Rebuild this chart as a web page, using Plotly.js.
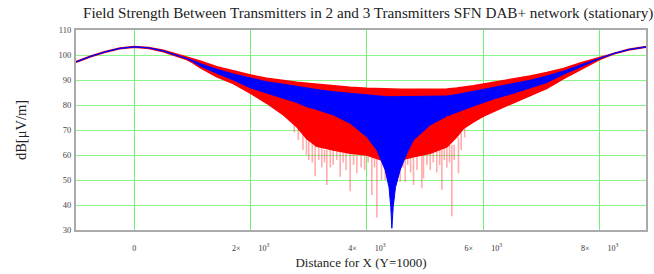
<!DOCTYPE html>
<html>
<head>
<meta charset="utf-8">
<script src="https://cdn.plot.ly/plotly-3.0.1.min.js"></script>
<style>html,body{margin:0;padding:0;background:#fff;}#chart{width:654px;height:274px;}</style>
</head>
<body>
<div id="chart"></div>
<script>
// Distance along X (m)
var distX = [-1000,-750,-500,-250,0,250,500,750,900,1000,1130,1417,1703,2000,2277,2564,2793,2966,3138,3424,3711,3998,4170,4313,4380,4410,4428,4450,4490,4571,4686,4800,5088,5374,5546,5660,5832,6004,6233,6520,6807,7095,7381,7668,8000,8250,8500,8800];
// 3-transmitter SFN (red) envelope, dB[uV/m]
var redUpper = [97.4,99.6,101.4,102.8,103.4,103.0,101.9,100.2,99.1,98.4,97.6,95.3,93.6,92.0,90.7,89.7,89.1,88.7,88.3,87.6,87.1,86.7,86.5,86.4,86.3,86.3,86.3,86.3,86.3,86.3,86.3,86.3,86.3,86.4,86.8,87.1,87.7,88.4,89.3,90.3,91.6,93.0,94.6,96.8,99.0,100.8,102.3,103.4];
var redLower = [97.1,99.3,101.1,102.5,103.1,102.6,101.3,99.5,98.2,97.0,95.0,91.3,88.6,84.7,80.7,76.0,71.3,66.5,63.5,62.0,60.7,60.0,58.5,57.5,57.5,57.5,57.5,57.5,57.5,58.0,58.8,59.3,60.7,63.3,67.3,70.7,73.3,75.6,78.0,81.0,84.0,86.7,90.6,94.1,98.2,100.5,102.0,103.1];
// 2-transmitter SFN (blue) envelope, dB[uV/m]
var blueUpper = [97.3,99.5,101.3,102.7,103.3,102.9,101.7,99.9,98.8,97.9,96.6,94.3,92.4,90.7,89.3,88.3,87.4,86.7,86.2,85.3,84.6,84.0,83.7,83.4,83.3,83.3,83.3,83.3,83.3,83.3,83.3,83.3,83.4,83.6,84.2,84.7,85.5,86.3,87.3,88.4,89.9,91.6,93.6,96.0,98.8,100.7,102.2,103.3];
var blueLower = [97.2,99.4,101.2,102.6,103.2,102.8,101.5,99.6,98.5,97.4,95.6,92.7,90.0,86.8,84.7,82.7,81.0,79.3,78.2,76.0,72.7,67.3,62.0,54.0,47.0,39.0,30.7,39.0,47.0,54.0,60.7,66.0,72.0,75.6,77.2,78.0,79.6,81.0,82.8,84.7,86.9,89.0,92.3,95.3,98.5,100.6,102.1,103.2];
// deep interference notches of the 3-transmitter field
var spikeX   = [2750,2820,2900,2960,3000,3060,3109,3170,3224,3270,3310,3370,3420,3480,3539,3590,3640,3711,3770,3826,3900,3960,4020,4084,4130,4170,4250,4313,4571,4620,4657,4700,4750,4800,4860,4944,4972,5030,5088,5140,5200,5250,5288,5330,5374,5420,5460,5500,5574,5620,5680];
var spikeLow = [69,66,62,60,58,57,51.5,58,55,57,48,55,56,58,51.3,57,54,45.5,56,52.7,55,54,57,44,55,35,50,50,49.3,55,49.3,56,53,48,54,46.7,50.7,56,54,57,53,56,46,58,55,57,35.5,58,52.7,62,67];
var spikeTop = [74,72,70,68,66,65,64,63,63,62,62,62,62,62,62,61,61,61,61,60,60,60,60,60,59,59,58,58,58,58,59,59,59,59,60,60,60,60,61,61,62,62,62,63,63,64,64,64,67,69,72];
// axis ticks
var nb = '\u00a0\u00a0\u00a0\u00a0\u00a0\u00a0\u00a0\u00a0\u00a0';
var xTickVals = [0,2000,4000,6000,8000];
var xTickText = ['0','2\u00d7'+nb+'10<sup>3</sup>','4\u00d7'+nb+'10<sup>3</sup>','6\u00d7'+nb+'10<sup>3</sup>','8\u00d7'+nb+'10<sup>3</sup>'];
var yTickVals = [30,40,50,60,70,80,90,100,110];

var sx = [], sy = [];
for (var i = 0; i < spikeX.length; i++) {
  sx.push(spikeX[i], spikeX[i], null);
  sy.push(spikeTop[i], spikeLow[i], null);
}

var traces = [
  {x: sx, y: sy, mode: 'lines', line: {color: 'rgba(255,70,70,0.45)', width: 1.6}, hoverinfo: 'skip', showlegend: false},
  {x: distX, y: redUpper, mode: 'lines', line: {color: '#ff0000', width: 1.5}, showlegend: false},
  {x: distX, y: redLower, mode: 'lines', line: {color: '#ff0000', width: 1.5}, fill: 'tonexty', fillcolor: '#ff0000', showlegend: false},
  {x: distX, y: blueUpper, mode: 'lines', line: {color: '#0000ff', width: 1}, showlegend: false},
  {x: distX, y: blueLower, mode: 'lines', line: {color: '#0000ff', width: 1}, fill: 'tonexty', fillcolor: '#0000ff', showlegend: false}
];

var serif = 'Liberation Serif, Times New Roman, serif';
var layout = {
  width: 654, height: 274,
  margin: {l: 76, r: 8, t: 30, b: 44},
  paper_bgcolor: '#ffffff', plot_bgcolor: '#ffffff',
  title: {text: 'Field Strength Between Transmitters in 2 and 3 Transmitters SFN DAB+ network (stationary)',
          font: {family: serif, size: 15.2, color: '#222'}, x: 0.563, xanchor: 'center', y: 0.952, yanchor: 'middle'},
  xaxis: {
    range: [-1003, 8798], tickvals: xTickVals, ticktext: xTickText,
    showgrid: true, gridcolor: '#6ef06e', gridwidth: 1, zeroline: false,
    showline: true, mirror: true, linecolor: '#aaaaaa', linewidth: 2,
    ticks: '', ticklabelstandoff: 9,
    tickfont: {family: serif, size: 8, color: '#333'},
    title: {text: 'Distance for X (Y=1000)', font: {family: serif, size: 13, color: '#222'}, standoff: 6}
  },
  yaxis: {
    range: [30, 110], tickvals: yTickVals,
    showgrid: true, gridcolor: '#8cf58c', gridwidth: 1, zeroline: false,
    showline: true, mirror: true, linecolor: '#aaaaaa', linewidth: 2,
    ticks: '', ticklabelstandoff: 1,
    tickfont: {family: serif, size: 8.5, color: '#444'},
    title: {text: 'dB[\u03bcV/m]', font: {family: serif, size: 14.5, color: '#222'}, standoff: 28}
  }
};

Plotly.newPlot('chart', traces, layout, {staticPlot: true, displayModeBar: false});
</script>
</body>
</html>
